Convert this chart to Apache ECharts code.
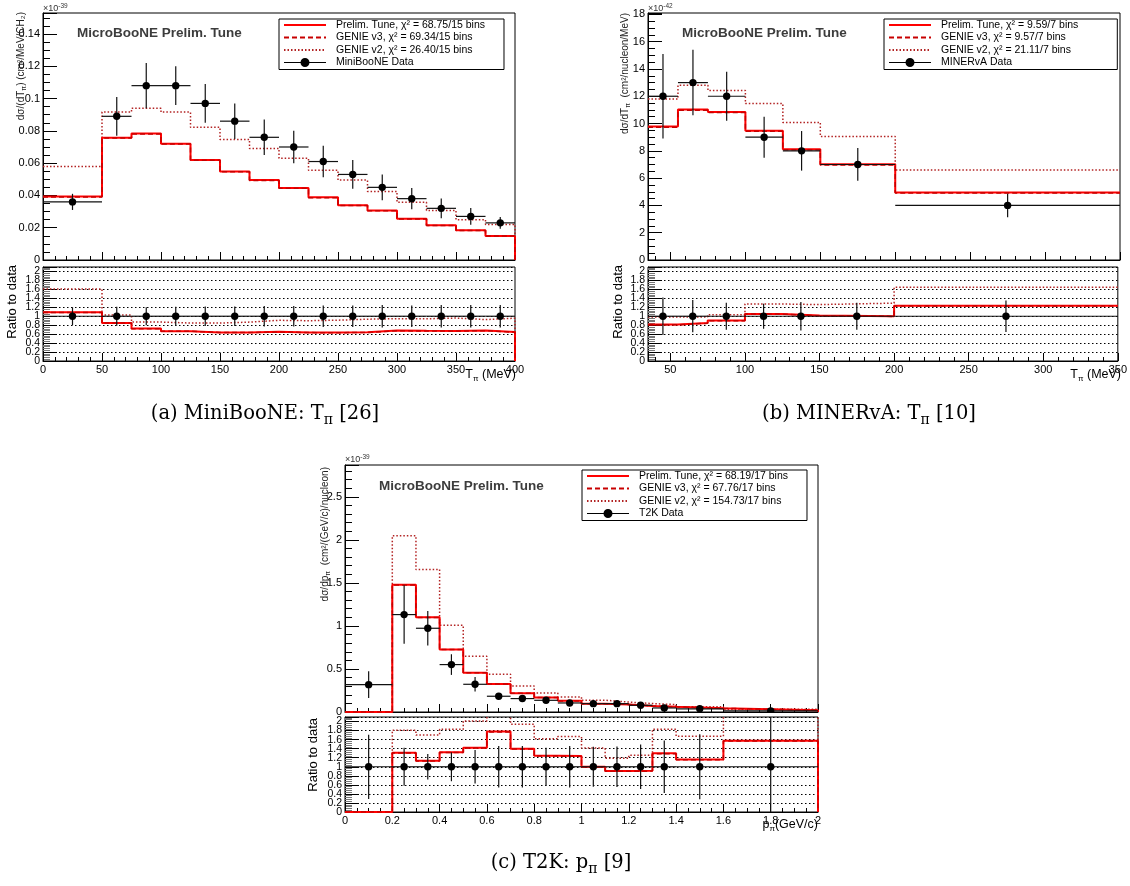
<!DOCTYPE html>
<html><head><meta charset="utf-8">
<script src="https://cdn.jsdelivr.net/npm/echarts@6/dist/echarts.min.js"></script>
<style>html,body{margin:0;padding:0;background:#fff}#c{width:1130px;height:886px}</style>
</head><body><div id="c"></div>
<script>
// ---------------- DATA ----------------
// (a) MiniBooNE, T_pi (MeV), units 1e-39
const aEdges = [0,50,75,100,125,150,175,200,225,250,275,300,325,350,375,400];
const aData  = [0.036,0.089,0.108,0.108,0.097,0.086,0.076,0.070,0.061,0.053,0.045,0.038,0.032,0.027,0.023];
const aErr   = [0.005,0.012,0.014,0.012,0.012,0.011,0.011,0.010,0.0097,0.0089,0.008,0.0066,0.0061,0.0052,0.0036];
const aRatioErr = [0.20,0.21,0.20,0.21,0.22,0.22,0.23,0.23,0.24,0.24,0.25,0.24,0.25,0.25,0.25];
const aTune  = [0.0393,0.0757,0.0783,0.0720,0.0620,0.0548,0.0495,0.0446,0.0388,0.0339,0.0307,0.0256,0.0215,0.0184,0.0149];
const aV3    = [0.0391,0.0755,0.0781,0.0718,0.0618,0.0546,0.0492,0.0444,0.0386,0.0337,0.0305,0.0254,0.0214,0.0183,0.0148];
const aV2    = [0.0579,0.0916,0.0940,0.0916,0.0822,0.0747,0.0691,0.0630,0.0556,0.0495,0.0425,0.0358,0.0307,0.0250,0.0220];
const aNames = ['Prelim. Tune, χ² = 68.75/15 bins','GENIE v3, χ² = 69.34/15 bins','GENIE v2, χ² = 26.40/15 bins','MiniBooNE Data'];

// (b) MINERvA, T_pi (MeV), units 1e-42
const bEdges = [35,55,75,100,125,150,200,350];
const bData  = [12.0,13.0,12.0,9.0,8.0,7.0,4.0];
const bErr   = [3.1,2.4,1.8,1.5,1.45,1.2,0.86];
const bRatioErr = [0.42,0.36,0.30,0.28,0.32,0.30,0.35];
const bTune  = [9.79,11.02,10.85,9.47,8.12,7.01,4.94];
const bV3    = [9.72,10.97,10.81,9.43,8.07,6.97,4.91];
const bV2    = [11.80,12.81,12.42,11.46,10.08,9.05,6.59];
const bNames = ['Prelim. Tune, χ² = 9.59/7 bins','GENIE v3, χ² = 9.57/7 bins','GENIE v2, χ² = 21.11/7 bins','MINERvA Data'];

// (c) T2K, p_pi (GeV/c), units 1e-39
const cEdges = [0,0.2,0.3,0.4,0.5,0.6,0.7,0.8,0.9,1.0,1.1,1.2,1.3,1.4,1.6,2.0];
const cData  = [0.318,1.132,0.973,0.551,0.322,0.183,0.156,0.136,0.105,0.097,0.097,0.078,0.047,0.037,0.013];
const cErr   = [0.155,0.34,0.20,0.12,0.085,0.035,0.025,0.02,0.015,0.012,0.012,0.01,0.008,0.008,0.006];
const cRatioErr = [0.71,0.42,0.28,0.32,0.37,0.46,0.46,0.42,0.46,0.44,0.45,0.49,0.58,0.72,1.1];
const cTune  = [0,1.48,1.10,0.727,0.457,0.326,0.218,0.169,0.130,0.097,0.088,0.071,0.061,0.043,0.0205];
const cV3    = [0,1.475,1.098,0.725,0.456,0.324,0.217,0.168,0.129,0.0965,0.0875,0.0705,0.0605,0.0428,0.0204];
const cV2    = [0,2.047,1.656,1.008,0.648,0.438,0.303,0.22,0.175,0.137,0.115,0.098,0.086,0.062,0.032];
const cNames = ['Prelim. Tune, χ² = 68.19/17 bins','GENIE v3, χ² = 67.76/17 bins','GENIE v2, χ² = 154.73/17 bins','T2K Data'];

// ---------------- STYLE / LAYOUT ----------------
const FONT = '"Liberation Sans", Arial, Helvetica, sans-serif';
const SERIF = '"DejaVu Serif", "Liberation Serif", serif';
const TUNE_STYLE = {color:'#ff0000', width:2, type:'solid'};
const V3_STYLE = {color:'#c80000', width:1.5, type:[5,3]};
const V2_STYLE = {color:'#b22222', width:1.5, type:[1.5,2]};
const DOT_ICON = 'path://M0,4H42V5H0Z M25.5,4.5A4.5,4.5,0,1,1,16.5,4.5A4.5,4.5,0,1,1,25.5,4.5Z';

const panels = [
  {edges:aEdges, data:aData, err:aErr, rerr:aRatioErr, tune:aTune, v3:aV3, v2:aV2, names:aNames, drop:true,
   main:{left:43, top:13, width:472, height:247}, ratio:{left:43, top:267, width:472, height:94},
   x:{min:0, max:400, interval:50, minor:5}, y:{max:0.153, interval:0.02, minor:4},
   legend:{left:279, top:19, padR:19}},
  {edges:bEdges, data:bData, err:bErr, rerr:bRatioErr, tune:bTune, v3:bV3, v2:bV2, names:bNames, drop:false,
   main:{left:648, top:13, width:472, height:247}, ratio:{left:648, top:267, width:472, height:94},
   x:{min:35, max:350, minInterval:50, maxInterval:50, splitNumber:6, minor:5, hideMin:true}, y:{max:18.1, interval:2, minor:4},
   legend:{left:884, top:19, padR:39}},
  {edges:cEdges, data:cData, err:cErr, rerr:cRatioErr, tune:cTune, v3:cV3, v2:cV2, names:cNames, drop:true,
   main:{left:345, top:465, width:473, height:247}, ratio:{left:345, top:717, width:473, height:95},
   x:{min:0, max:2, interval:0.2, minor:4}, y:{max:2.87, interval:0.5, minor:5},
   legend:{left:582, top:470, padR:19}}
];

// ---------------- BUILD ----------------
function stepData(edges, vals, drop){
  const pts = vals.map((v,i)=>[edges[i], v]);
  const last = edges[edges.length-1];
  pts.push([last, vals[vals.length-1]]);
  if (drop) pts.push([last, 0]);
  return pts;
}
function hist(name, gi, pts, st, z){
  return {type:'line', name, xAxisIndex:gi, yAxisIndex:gi, step:'end', symbol:'none', showSymbol:false,
    data:pts, z, silent:true, lineStyle:st, itemStyle:{color:st.color}};
}
function points(name, gi, edges, vals, errs){
  const d = vals.map((v,i)=>[(edges[i]+edges[i+1])/2, v, edges[i], edges[i+1], errs[i]]);
  return {type:'custom', name, xAxisIndex:gi, yAxisIndex:gi, clip:true, z:10, silent:true,
    itemStyle:{color:'#000'}, data:d, encode:{x:0, y:1},
    renderItem(params, api){
      const x=api.value(0), y=api.value(1), lo=api.value(2), hi=api.value(3), e=api.value(4);
      const c=api.coord([x,y]), l=api.coord([lo,y]), r=api.coord([hi,y]);
      const t=api.coord([x,y+e]), b=api.coord([x,y-e]);
      return {type:'group', children:[
        {type:'line', shape:{x1:l[0],y1:l[1],x2:r[0],y2:r[1]}, style:{stroke:'#111', lineWidth:1.2}},
        {type:'line', shape:{x1:t[0],y1:t[1],x2:b[0],y2:b[1]}, style:{stroke:'#111', lineWidth:1.2}},
        {type:'circle', shape:{cx:c[0],cy:c[1],r:3.7}, style:{fill:'#000'}}
      ]};
    }};
}
function xAx(gi, cfg, labels){
  return {type:'value', gridIndex:gi, min:cfg.min, max:cfg.max, interval:cfg.interval,
    minInterval:cfg.minInterval, maxInterval:cfg.maxInterval, splitNumber:cfg.splitNumber,
    axisLine:{show:true, onZero:false, lineStyle:{color:'#000', width:1}},
    axisTick:{show:true, inside:true, length:8, lineStyle:{color:'#000'}},
    minorTick:{show:true, splitNumber:cfg.minor, length:4, lineStyle:{color:'#000'}},
    axisLabel:{show:labels, margin:3, fontSize:11, fontFamily:FONT, color:'#000', showMinLabel:!cfg.hideMin, showMaxLabel:true},
    splitLine:{show:false}};
}
function yMain(gi, cfg){
  return {type:'value', gridIndex:gi, min:0, max:cfg.max, interval:cfg.interval,
    axisLine:{show:true, onZero:false, lineStyle:{color:'#000', width:1}},
    axisTick:{show:true, inside:true, length:14, lineStyle:{color:'#000'}},
    minorTick:{show:true, splitNumber:cfg.minor, length:7, lineStyle:{color:'#000'}},
    axisLabel:{margin:3, fontSize:11, fontFamily:FONT, color:'#000', showMinLabel:true, showMaxLabel:false},
    splitLine:{show:false}};
}
function yRatio(gi){
  return {type:'value', gridIndex:gi, min:0, max:2.1, interval:0.2,
    axisLine:{show:true, onZero:false, lineStyle:{color:'#000', width:1}},
    axisTick:{show:true, inside:true, length:14, lineStyle:{color:'#000'}},
    minorTick:{show:true, splitNumber:5, length:7, lineStyle:{color:'#777'}},
    axisLabel:{margin:3, fontSize:10.5, fontFamily:FONT, color:'#000', showMinLabel:false, showMaxLabel:false},
    splitLine:{show:true, lineStyle:{color:'#000', width:1, type:[1.5,2.5]}}};
}
// companion axis on each ratio pad that carries only the "0" label
function yRatioZero(gi){
  return {type:'value', gridIndex:gi, position:'left', min:0, max:2.1, interval:2.1,
    axisLine:{show:false}, axisTick:{show:false}, minorTick:{show:false}, splitLine:{show:false},
    axisLabel:{margin:3, fontSize:10.5, fontFamily:FONT, color:'#000', showMinLabel:true, showMaxLabel:false}};
}

const grid=[], xAxis=[], yAxis=[], series=[], legend=[], zeroAxes=[];
panels.forEach((p, k)=>{
  const gm = 2*k, gr = 2*k+1;
  grid.push(Object.assign({show:true, borderColor:'#000', borderWidth:1, containLabel:false}, p.main));
  grid.push(Object.assign({show:true, borderColor:'#000', borderWidth:1, containLabel:false}, p.ratio));
  xAxis.push(xAx(gm, p.x, false)); xAxis.push(xAx(gr, p.x, true));
  yAxis.push(yMain(gm, p.y)); yAxis.push(yRatio(gr));
  zeroAxes.push(yRatioZero(gr));
  const ratio = arr => arr.map((m,i)=> m / p.data[i]);
  const dataRatio = p.data.map(d => d / d);
  // main
  series.push(hist(p.names[2], gm, stepData(p.edges, p.v2, p.drop), V2_STYLE, 3));
  series.push(hist(p.names[0], gm, stepData(p.edges, p.tune, p.drop), TUNE_STYLE, 4));
  series.push(hist(p.names[1], gm, stepData(p.edges, p.v3, p.drop), V3_STYLE, 5));
  series.push(points(p.names[3], gm, p.edges, p.data, p.err));
  // ratio
  series.push(hist(p.names[2], gr, stepData(p.edges, ratio(p.v2), p.drop), V2_STYLE, 3));
  series.push(hist(p.names[0], gr, stepData(p.edges, ratio(p.tune), p.drop), TUNE_STYLE, 4));
  series.push(hist(p.names[1], gr, stepData(p.edges, ratio(p.v3), p.drop), V3_STYLE, 5));
  series.push(points(p.names[3], gr, p.edges, dataRatio, p.rerr));
  const noSym = {opacity:0};
  legend.push({orient:'vertical', left:p.legend.left, top:p.legend.top, padding:[0, p.legend.padR, 1, 4],
    itemWidth:42, itemHeight:9, itemGap:0.5, selectedMode:false, borderColor:'#000', borderWidth:1,
    backgroundColor:'#fff', z:20,
    textStyle:{fontSize:10.5, fontFamily:FONT, color:'#000', lineHeight:12, padding:[0,0,0,5]},
    data:[{name:p.names[0], itemStyle:noSym}, {name:p.names[1], itemStyle:noSym},
          {name:p.names[2], itemStyle:noSym}, {name:p.names[3], icon:DOT_ICON}]});
});
zeroAxes.forEach(a => yAxis.push(a));

// ---------------- TEXT ----------------
const RICH_AX = {
  n:{fontSize:10, fontFamily:FONT, fill:'#222', lineHeight:14},
  s:{fontSize:7, fontFamily:FONT, fill:'#222', lineHeight:7, verticalAlign:'bottom'}
};
const RICH_X = {
  n:{fontSize:12.5, fontFamily:FONT, fill:'#000', lineHeight:16},
  s:{fontSize:8, fontFamily:FONT, fill:'#000', lineHeight:7, verticalAlign:'bottom'}
};
const RICH_EXP = {
  m:{fontSize:9, fontFamily:FONT, fill:'#333', lineHeight:12},
  p:{fontSize:6.5, fontFamily:FONT, fill:'#333', lineHeight:5, verticalAlign:'top'}
};
const RICH_CAP = {
  n:{fontSize:19.5, fontFamily:SERIF, fill:'#000', lineHeight:26},
  s:{fontSize:14, fontFamily:SERIF, fill:'#000', lineHeight:15, verticalAlign:'bottom'}
};
function T(x, y, text, rich, align, valign, rot){
  return {type:'text', x, y, rotation:rot||0, silent:true, z:30,
    style:{text, rich, align:align||'left', verticalAlign:valign||'middle', fill:'#000'}};
}
function bold(x, y, text){
  return {type:'text', x, y, silent:true, z:30,
    style:{text, fontSize:13.5, fontWeight:'bold', fontFamily:FONT, fill:'#3c3c3c', align:'left', verticalAlign:'middle'}};
}
function ratioTitle(x, y){
  return {type:'text', x, y, rotation:Math.PI/2, silent:true, z:30,
    style:{text:'Ratio to data', fontSize:13, fontFamily:FONT, fill:'#000', align:'right', verticalAlign:'middle'}};
}
const R = Math.PI/2;
const graphic = [
  bold(77, 33, 'MicroBooNE Prelim. Tune'),
  bold(682, 33, 'MicroBooNE Prelim. Tune'),
  bold(379, 486, 'MicroBooNE Prelim. Tune'),
  T(43, 9, '{m|×10}{p|-39}', RICH_EXP, 'left'),
  T(648, 9, '{m|×10}{p|-42}', RICH_EXP, 'left'),
  T(345, 460, '{m|×10}{p|-39}', RICH_EXP, 'left'),
  T(21, 12, '{n|dσ/(dT}{s|π}{n|) (cm²/MeV/CH₂)}', RICH_AX, 'right', 'middle', R),
  T(625, 13, '{n|dσ/dT}{s|π}{n|  (cm²/nucleon/MeV)}', RICH_AX, 'right', 'middle', R),
  T(325, 467, '{n|dσ/dp}{s|π}{n|  (cm²/(GeV/c)/nucleon)}', RICH_AX, 'right', 'middle', R),
  ratioTitle(12, 265), ratioTitle(618, 265), ratioTitle(313, 718),
  T(516, 375, '{n|T}{s|π}{n| (MeV)}', RICH_X, 'right'),
  T(1121, 375, '{n|T}{s|π}{n| (MeV)}', RICH_X, 'right'),
  T(818, 825, '{n|p}{s|π}{n|(GeV/c)}', RICH_X, 'right'),
  T(265, 414, '{n|(a) MiniBooNE: T}{s|π}{n| [26]}', RICH_CAP, 'center'),
  T(869, 414, '{n|(b) MINERvA: T}{s|π}{n| [10]}', RICH_CAP, 'center'),
  T(561, 863, '{n|(c) T2K: p}{s|π}{n| [9]}', RICH_CAP, 'center')
];

const chart = echarts.init(document.getElementById('c'), null, {renderer:'canvas'});
chart.setOption({animation:false, backgroundColor:'#fff', grid, xAxis, yAxis, series, legend, graphic});
</script></body></html>
